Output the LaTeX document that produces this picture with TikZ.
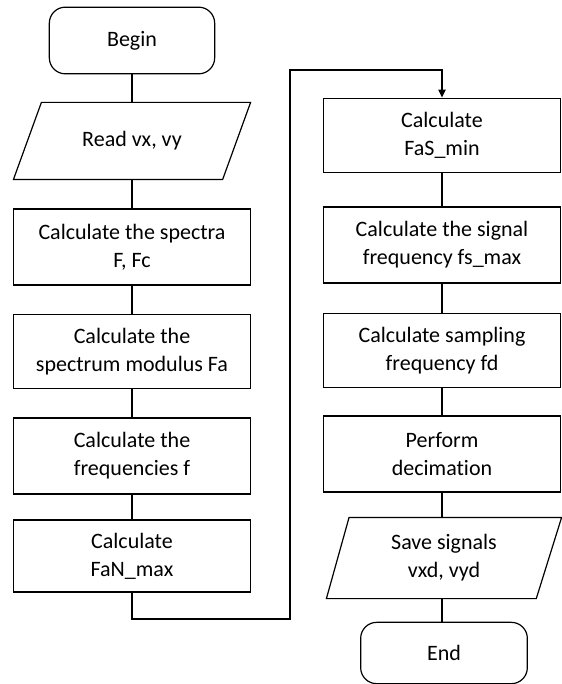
\documentclass[tikz,border=0pt]{standalone}
\usepackage{fontspec}
\setmainfont{Carlito}[Ligatures=NoCommon]
\usetikzlibrary{arrows.meta}

\begin{document}
\begin{tikzpicture}[x=0.75pt,y=-0.75pt,line width=0.9pt,
    every node/.style={draw,align=center,inner sep=0pt,
        font=\fontsize{16.5}{21}\selectfont},
    term/.style={rectangle,rounded corners=12pt,
        minimum width=124pt,minimum height=50pt},
    proc/.style={rectangle,minimum width=178pt,minimum height=56pt},
    io/.style={rectangle,draw=none,minimum width=177pt,minimum height=57pt},
    flow/.style={-{Triangle[width=5.5pt,length=6pt]}}]
\useasboundingbox (0,0) rectangle (561,684);
\node (begin) [term] at (132,40.5) {Begin};
\node (read) [io] at (132,141) {Read vx, vy};
\node (spectra) [proc,minimum height=57pt] at (132,247) {Calculate the spectra\\F, Fc};
\node (modulus) [proc] at (132,351.5) {Calculate the\\spectrum modulus Fa};
\node (freq) [proc,minimum height=57pt] at (132,456) {Calculate the\\frequencies f};
\node (fanmax) [proc,minimum height=54pt] at (132,556) {Calculate\\FaN\_max};
\node (fasmin) [proc] at (442,135.5) {Calculate\\FaS\_min};
\node (fsmax) [proc,minimum height=57pt] at (442,245) {Calculate the signal\\frequency fs\_max};
\node (fd) [proc] at (442,350.5) {Calculate sampling\\frequency fd};
\node (decim) [proc,minimum height=57pt] at (442,454) {Perform\\decimation};
\node (save) [io,minimum width=175.5pt,minimum height=60pt] at (444,558) {Save signals\\vxd, vyd};
\node (end) [term,minimum width=125pt,minimum height=46pt] at (444,653) {End};
\draw ([xshift=21pt]read.north west) -- (read.north east)
    -- ([xshift=-21pt]read.south east) -- (read.south west) -- cycle;
\draw ([xshift=17pt]save.north west) -- (save.north east)
    -- ([xshift=-19pt]save.south east) -- (save.south west) -- cycle;
\draw (begin) -- (read) -- (spectra) -- (modulus) -- (freq) -- (fanmax);
\draw (fasmin) -- (fsmax) -- (fd) -- (decim);
\draw (decim.south) -- (decim.south |- save.north);
\draw (decim.south |- save.south) -- (decim.south |- end.north);
\coordinate (lo) at (290,619);
\coordinate (hi) at (290,70);
\draw[flow] (fanmax) |- (lo) -- (hi) -| (fasmin);
\end{tikzpicture}
\end{document}
